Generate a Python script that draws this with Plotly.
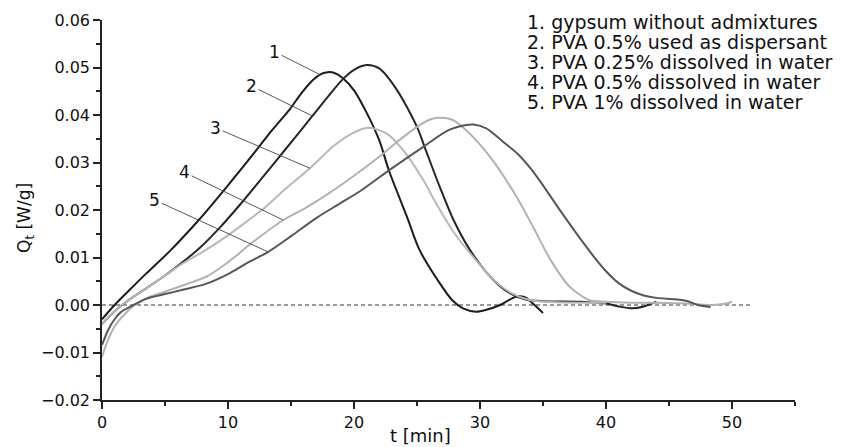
import plotly.graph_objects as go

# ---- data ----
t1 = [0, 1, 2.2, 3.5, 5.4, 7.75, 10, 12.25, 13.5, 14.9, 15.8, 16.6, 17.3, 17.9, 18.4, 19.1, 20, 21, 22, 22.8, 24.2, 25.2, 26.8, 27.8, 28.65, 29.7, 30.5, 31.6, 32.9, 33.6, 34.2, 35]
q1 = [-0.003, 0.0, 0.0032, 0.0066, 0.0114, 0.0181, 0.0252, 0.0326, 0.0368, 0.0412, 0.0445, 0.047, 0.0485, 0.049, 0.0489, 0.0478, 0.0452, 0.0405, 0.0347, 0.0281, 0.0186, 0.0116, 0.0046, 0.001, -0.0007, -0.0014, -0.001, 0.0, 0.0018, 0.0016, 0.0003, -0.0017]

t2 = [0, 1, 2, 3.5, 5, 6.2, 7.75, 9.35, 11.2, 13.8, 15.3, 16.7, 18, 19.1, 20, 21, 22, 23.4, 25, 25.6, 26.8, 27.9, 29.2, 30.8, 32.35, 33.7, 35, 38, 40, 41, 42.1, 43, 44]
q2 = [-0.004, -0.0013, 0.0008, 0.0035, 0.0062, 0.0086, 0.012, 0.0163, 0.0219, 0.0303, 0.0352, 0.0398, 0.0441, 0.0475, 0.0495, 0.0505, 0.0498, 0.0453, 0.0375, 0.0333, 0.0249, 0.0179, 0.0116, 0.006, 0.0025, 0.0011, 0.0008, 0.0007, 0.0003, -0.0003, -0.0007, -0.0003, 0.0007]

t3 = [0, 1, 2, 3.5, 5, 6.2, 8, 9.35, 11, 13, 14.5, 16.5, 17.5, 18.3, 19.9, 21.2, 22.6, 23.9, 25.5, 26.5, 28, 29.5, 31, 32.5, 34, 36, 40]
q3 = [-0.004, -0.0013, 0.0008, 0.0035, 0.0062, 0.0084, 0.0112, 0.0135, 0.0166, 0.0207, 0.0243, 0.0288, 0.0313, 0.0333, 0.0362, 0.0373, 0.0361, 0.0326, 0.0263, 0.0215, 0.015, 0.01, 0.0055, 0.0025, 0.001, 0.0006, 0.0005]

t4 = [0, 0.5, 1, 1.7, 2.5, 3.5, 5, 6.5, 8.3, 10, 12, 14.4, 16, 18, 20, 22, 23.5, 25, 26, 26.7, 27.8, 28.9, 30.8, 32.9, 34.3, 35.6, 37.1, 38.7, 40, 42, 45, 47, 48.5, 49.5, 50]
q4 = [-0.0109, -0.0072, -0.0045, -0.0022, -0.0002, 0.0014, 0.0028, 0.0042, 0.006, 0.009, 0.0133, 0.0179, 0.0202, 0.0235, 0.0272, 0.0312, 0.0345, 0.0375, 0.039, 0.0394, 0.039, 0.0368, 0.0312, 0.0228, 0.016, 0.0095, 0.0039, 0.001, 0.0007, 0.0005, 0.0004, 0.0002, 0.0, 0.0003, 0.0007]

t5 = [0, 0.5, 1, 1.5, 2.5, 3.5, 5, 6.4, 8.3, 10, 11.5, 13.2, 15, 17, 18.9, 20.5, 22.8, 25.5, 27.5, 28.9, 29.5, 30.5, 32, 33, 34, 35, 36, 37, 38, 39, 40, 41, 42, 43, 44, 45.5, 46.5, 47.3, 48.3]
q5 = [-0.0084, -0.0052, -0.003, -0.0015, 0.0, 0.0013, 0.0023, 0.0032, 0.0045, 0.0065, 0.0088, 0.0112, 0.0145, 0.0183, 0.0214, 0.024, 0.0284, 0.0333, 0.0368, 0.0379, 0.038, 0.0372, 0.034, 0.0318, 0.0288, 0.0252, 0.0213, 0.0175, 0.0138, 0.0103, 0.0071, 0.0046, 0.003, 0.002, 0.0015, 0.0012, 0.0008, 0.0, -0.0004]

zero_t = [0, 51.6]
zero_q = [0, 0]

names = ["1. gypsum without admixtures",
         "2. PVA 0.5% used as dispersant",
         "3. PVA 0.25% dissolved in water",
         "4. PVA 0.5% dissolved in water",
         "5. PVA 1% dissolved in water"]

# curve label pointers: (label t, label q, point t, point q)
lbl_nums = ["1", "2", "3", "4", "5"]
lbl_t = [13.7, 11.86, 9.02, 6.56, 4.18]
lbl_q = [0.0533, 0.0461, 0.0373, 0.0279, 0.0221]
pt_t = [17.3, 16.7, 16.5, 14.37, 13.17]
pt_q = [0.0485, 0.0398, 0.0288, 0.0179, 0.0112]

x_ticks = [0, 10, 20, 30, 40, 50]
y_ticks = [-0.02, -0.01, 0.0, 0.01, 0.02, 0.03, 0.04, 0.05, 0.06]

FONT = "DejaVu Sans"
series = [(t1, q1, "#1c1c1c"), (t2, q2, "#262626"), (t3, q3, "#b8b8b8"),
          (t4, q4, "#b2b2b2"), (t5, q5, "#575757")]

fig = go.Figure()
fig.add_trace(go.Scatter(x=zero_t, y=zero_q, mode="lines",
                         line=dict(color="#333", width=1, dash="4px,3px"),
                         showlegend=False, hoverinfo="skip"))
for (tt, qq, c), nm in zip(series, names):
    fig.add_trace(go.Scatter(x=tt, y=qq, mode="lines", name=nm,
                             line=dict(color=c, width=2, shape="spline", smoothing=0.8),
                             showlegend=False))

for n, lt, lq, pt, pq in zip(lbl_nums, lbl_t, lbl_q, pt_t, pt_q):
    fig.add_annotation(x=pt, y=pq, ax=lt, ay=lq, axref="x", ayref="y",
                       text=n, showarrow=True, arrowhead=0, arrowwidth=0.9,
                       arrowcolor="#444", standoff=0,
                       font=dict(family=FONT, size=17, color="#111"))

# legend-like text block
for i, nm in enumerate(names):
    fig.add_annotation(xref="paper", yref="paper",
                       x=(525 - 102) / 693, y=(400 - (22 + 20 * i)) / 380,
                       xanchor="left", yanchor="middle", showarrow=False,
                       text=nm, font=dict(family=FONT, size=19, color="#111"))

# axis titles
fig.add_annotation(xref="paper", yref="paper", x=(420 - 102) / 693, y=(400 - 435) / 380,
                   xanchor="center", yanchor="middle", showarrow=False,
                   text="t [min]", font=dict(family=FONT, size=18, color="#111"))
fig.add_annotation(xref="paper", yref="paper", x=(25 - 102) / 693, y=(400 - 218) / 380,
                   xanchor="center", yanchor="middle", showarrow=False, textangle=-90,
                   text="Q<sub>t</sub> [W/g]", font=dict(family=FONT, size=17, color="#111"))

axis_common = dict(showgrid=False, zeroline=False, showline=True, linecolor="#222",
                   linewidth=1.5, ticks="outside", tickcolor="#222", tickwidth=1.5,
                   ticklen=7, tickfont=dict(family=FONT, size=16, color="#111"))
fig.update_xaxes(range=[0, 55], tickvals=x_ticks,
                 minor=dict(dtick=5, tick0=0, ticks="outside", ticklen=4, tickcolor="#222", tickwidth=1.5),
                 **axis_common)
fig.update_yaxes(range=[-0.02, 0.06], tickvals=y_ticks, tickformat=".2f",
                 minor=dict(dtick=0.005, tick0=0, ticks="outside", ticklen=4, tickcolor="#222", tickwidth=1.5),
                 **axis_common)

fig.update_layout(width=852, height=447, margin=dict(l=102, r=57, t=20, b=47),
                  plot_bgcolor="white", paper_bgcolor="white",
                  font=dict(family=FONT, color="#111"))
fig.write_html("out.html")
